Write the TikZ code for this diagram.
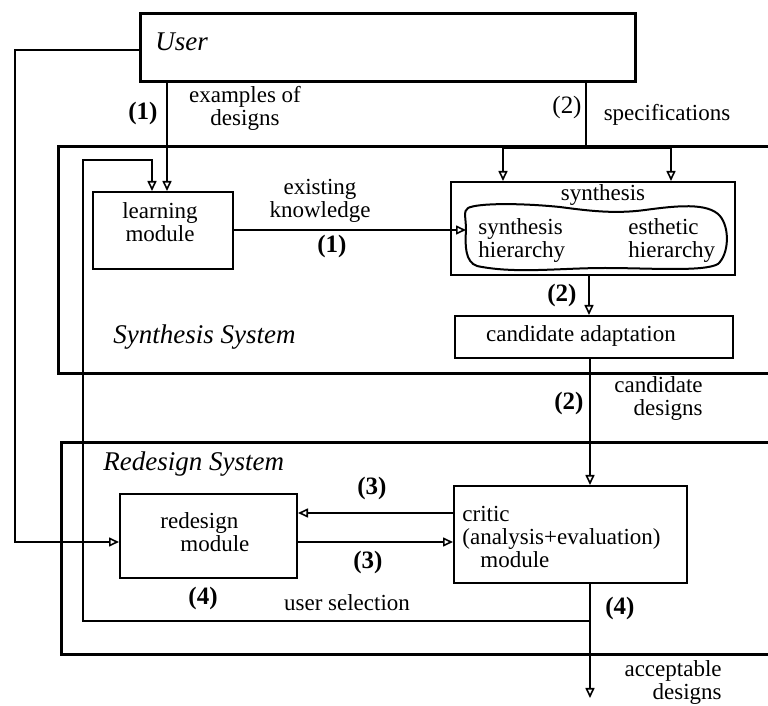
\documentclass[tikz,border=0pt]{standalone}
\usepackage{fontspec}
\setmainfont{Liberation Serif}
\usetikzlibrary{arrows.meta}
\begin{document}
\begin{tikzpicture}[x=0.5pt,y=-0.5pt,
  txt/.style={font=\fontsize{11.5}{11.5}\selectfont, inner sep=0pt},
  num/.style={font=\fontsize{12.5}{13}\selectfont\bfseries, inner sep=0pt},
  numreg/.style={font=\fontsize{12.5}{13}\selectfont, inner sep=0pt},
  title/.style={font=\fontsize{13.5}{14}\selectfont\itshape, inner sep=0pt, anchor=west},
  sysbox/.style={draw, line width=1.5pt, inner sep=0pt, anchor=north west},
  modbox/.style={draw, line width=1pt, inner sep=0pt, anchor=north west},
  link/.style={line width=1pt},
  arr/.style={link, -{Triangle[open, length=5pt, width=4.5pt, line width=0.8pt]}}]

\clip (0,0) rectangle (768,706);

% ---- frames ----
\node[sysbox, line width=1.7pt, minimum width=247.5pt, minimum height=34pt] (user) at (139,12) {};
\node[title] (usert) at (155,42) {User};

\node[sysbox, minimum width=380pt, minimum height=113.5pt] (synsys) at (57,145) {};
\node[title] (synsyst) at (113,337) {Synthesis System};

\node[sysbox, minimum width=380pt, minimum height=106pt] (redsys) at (60,441) {};
\node[title] (redsyst) at (103,464) {Redesign System};

% ---- modules ----
\node[modbox, minimum width=70pt, minimum height=38.5pt] (learn) at (92,191) {};
\node[txt, align=center] (learnt) at (160,222) {learning\\module};

\node[modbox, minimum width=142pt, minimum height=46.5pt] (synth) at (450,181) {};
\node[txt] (syntht) at (603,195) {synthesis};
\draw[link] (468,208)
  .. controls (478,203) and (520,203) .. (560,207)
  .. controls (590,211) and (615,214) .. (645,210)
  .. controls (675,206) and (708,202) .. (720,216)
  .. controls (730,228) and (729,254) .. (718,264)
  .. controls (704,272) and (650,268) .. (605,268)
  .. controls (560,268) and (515,274) .. (477,266)
  .. controls (465,262) and (465,245) .. (466,230)
  .. controls (466,218) and (463,211) .. (468,208);
\coordinate (blobw) at (466,230);
\node[txt, anchor=west, align=left] (hsyn) at (478,241) {synthesis\\hierarchy};
\node[txt, anchor=west, align=left] (hest) at (628,241) {esthetic\\hierarchy};

\node[modbox, minimum width=139pt, minimum height=21pt] (cand) at (454,315) {};
\node[txt] (candt) at (581,336) {candidate adaptation};

\node[modbox, minimum width=88.5pt, minimum height=42pt] (redes) at (119,493) {};
\node[txt, anchor=west, align=left] (redest) at (160,532) {redesign\\\hspace*{10pt}module};

\node[modbox, minimum width=116.5pt, minimum height=48.5pt] (critic) at (453,485) {};
\node[txt, anchor=west, align=left] (critict) at (462,537) {critic\\(analysis+evaluation)\\\hspace*{9pt}module};

% ---- connectors ----
% user to redesign module, round the left side
\draw[arr] (user.west |- 0,50) -- (15,50) -- (15,542) -- (redes.west |- 0,542);
% examples of designs
\draw[arr] (user.south -| 167,0) -- (learn.north -| 167,0);
% specifications, split in two
\draw[link] (user.south -| 586,0) -- (586,148) coordinate (spl);
\draw[arr] (spl) -| (synth.north -| 503,0);
\draw[arr] (spl) -| (synth.north -| 671,0);
% existing knowledge
\draw[arr] (learn.east |- blobw) -- (blobw);
% synthesis -> adaptation -> critic
\draw[arr] (synth.south -| 589,0) -- (cand.north -| 589,0);
\draw[arr] (cand.south -| 590,0) -- (critic.north -| 590,0);
% critic <-> redesign
\draw[arr] (critic.west |- 0,513) -- (redes.east |- 0,513);
\draw[arr] (redes.east |- 0,542) -- (critic.west |- 0,542);
% acceptable designs and user selection
\draw[arr] (critic.south -| 590,0) -- (590,698) coordinate (outp);
\coordinate (sel) at (590,621);
\draw[arr] (sel) -- (83,621) -- (83,160) -- (152,160) -- (learn.north -| 152,0);

% ---- labels ----
\node[num] (l1a) at (143,113) {(1)};
\node[txt, align=center] (lex) at (245,108) {examples of\\designs};
\node[numreg] (l2a) at (567,107) {(2)};
\node[txt] (lspec) at (667,115) {specifications};
\node[txt, align=center] (lknow) at (320,201) {existing\\knowledge};
\node[num] (l1b) at (332,246) {(1)};
\node[num] (l2b) at (562,295) {(2)};
\node[num] (l2c) at (569,403) {(2)};
\node[txt, anchor=east, align=right] (lcand) at (703,399) {candidate\\designs};
\node[num] (l3a) at (372,488) {(3)};
\node[num] (l3b) at (368,562) {(3)};
\node[num] (l4a) at (203,598) {(4)};
\node[txt] (lsel) at (347,603) {user selection};
\node[num] (l4b) at (620,608) {(4)};
\node[txt, anchor=east, align=right] (lacc) at (722,683) {acceptable\\designs};
\end{tikzpicture}
\end{document}
